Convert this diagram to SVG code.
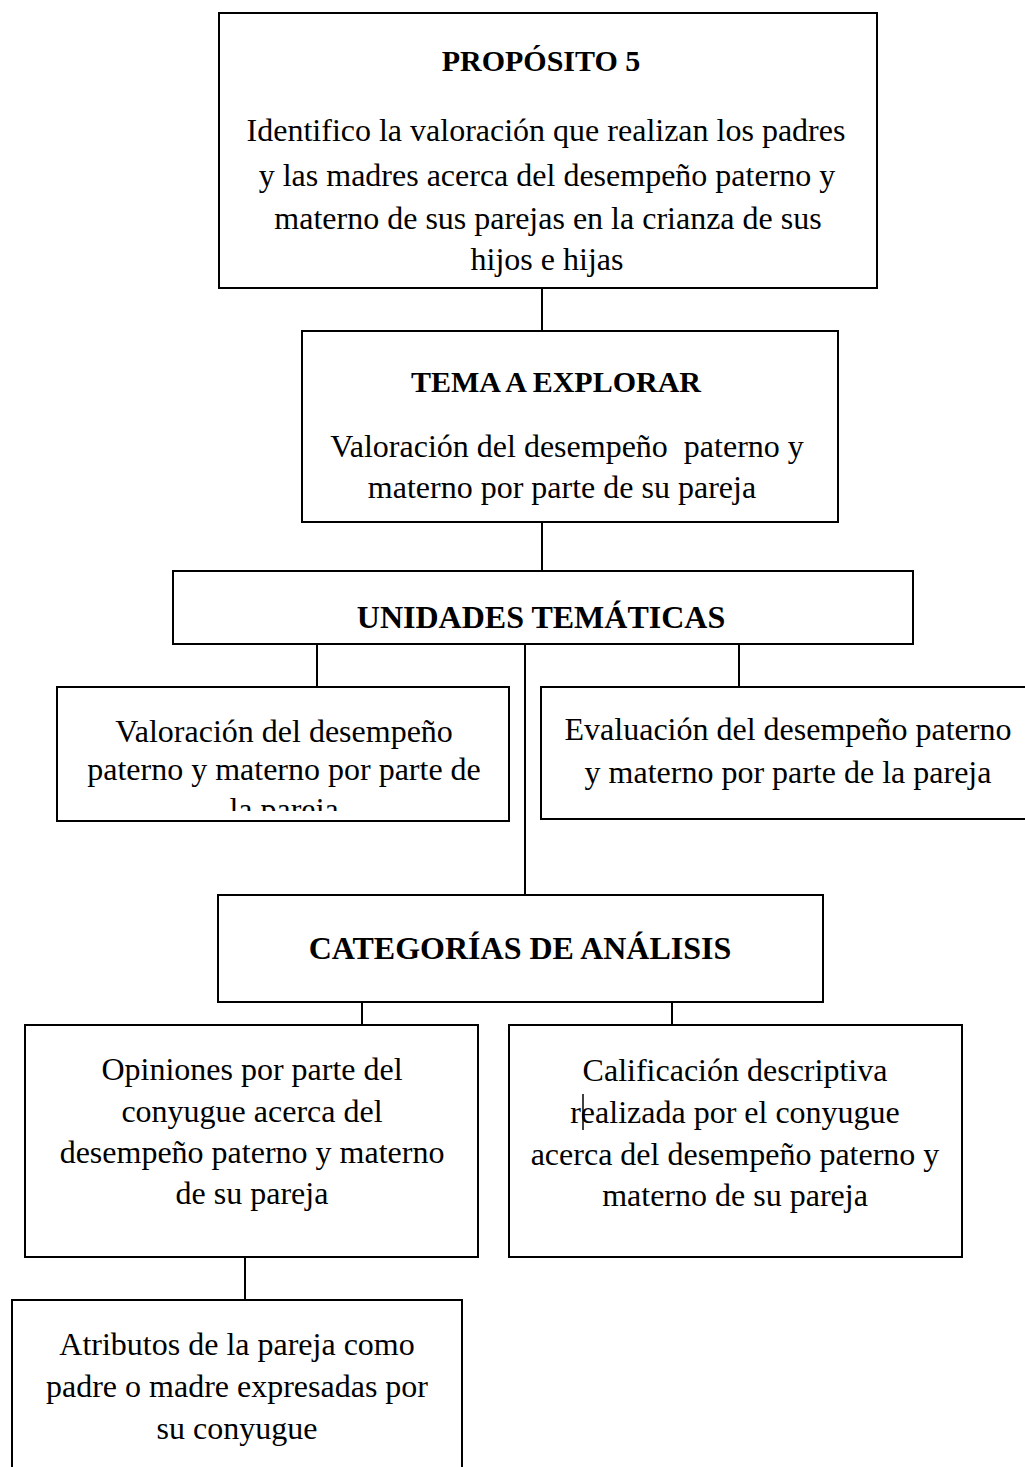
<svg xmlns="http://www.w3.org/2000/svg" width="1025" height="1467" viewBox="0 0 1025 1467">
<style>
.box{fill:#fff;stroke:#000;stroke-width:2}
.c{stroke:#000;stroke-width:2;fill:none}
text{font-family:"Liberation Serif","Times New Roman",serif;font-size:32px;fill:#000;text-anchor:middle}
.b{font-weight:bold}
.s{font-size:30px}
</style>
<defs>
<clipPath id="clipL"><rect x="57" y="688" width="452" height="123"/></clipPath>
</defs>
<rect width="1025" height="1467" fill="#fff"/>
<g id="connectors">
<line class="c" x1="542" y1="288" x2="542" y2="331"/>
<line class="c" x1="542" y1="522" x2="542" y2="571"/>
<line class="c" x1="317" y1="644" x2="317" y2="687"/>
<line class="c" x1="525" y1="644" x2="525" y2="895"/>
<line class="c" x1="739" y1="644" x2="739" y2="687"/>
<line class="c" x1="362" y1="1002" x2="362" y2="1025"/>
<line class="c" x1="672" y1="1002" x2="672" y2="1025"/>
<line class="c" x1="245" y1="1257" x2="245" y2="1300"/>
</g>
<g id="proposito">
<rect class="box" x="219" y="13" width="658" height="275"/>
<text class="b s" x="541" y="71">PROPÓSITO 5</text>
<text x="546" y="141">Identifico la valoración que realizan los padres</text>
<text x="547" y="186">y las madres acerca del desempeño paterno y</text>
<text x="548" y="229">materno de sus parejas en la crianza de sus</text>
<text x="547" y="270">hijos e hijas</text>
</g>
<g id="tema">
<rect class="box" x="302" y="331" width="536" height="191"/>
<text class="b s" x="556" y="392">TEMA A EXPLORAR</text>
<text x="567" y="457" xml:space="preserve">Valoración del desempeño  paterno y</text>
<text x="562" y="498">materno por parte de su pareja</text>
</g>
<g id="unidades">
<rect class="box" x="173" y="571" width="740" height="73"/>
<text class="b" x="541" y="628">UNIDADES TEMÁTICAS</text>
</g>
<g id="ut-valoracion">
<rect class="box" x="57" y="687" width="452" height="134"/>
<text x="284" y="742">Valoración del desempeño</text>
<text x="284" y="780">paterno y materno por parte de</text>
<text x="284" y="820" clip-path="url(#clipL)">la pareja</text>
</g>
<g id="ut-evaluacion">
<rect class="box" x="541" y="687" width="500" height="132"/>
<text x="788" y="740">Evaluación del desempeño paterno</text>
<text x="788" y="783">y materno por parte de la pareja</text>
</g>
<g id="categorias">
<rect class="box" x="218" y="895" width="605" height="107"/>
<text class="b" x="520" y="959">CATEGORÍAS DE ANÁLISIS</text>
</g>
<g id="ca-opiniones">
<rect class="box" x="25" y="1025" width="453" height="232"/>
<text x="252" y="1080">Opiniones por parte del</text>
<text x="252" y="1122">conyugue acerca del</text>
<text x="252" y="1163">desempeño paterno y materno</text>
<text x="252" y="1204">de su pareja</text>
</g>
<g id="ca-calificacion">
<rect class="box" x="509" y="1025" width="453" height="232"/>
<text x="735" y="1081">Calificación descriptiva</text>
<text x="735" y="1123">realizada por el conyugue</text>
<text x="735" y="1165">acerca del desempeño paterno y</text>
<text x="735" y="1206">materno de su pareja</text>
<line x1="583" y1="1094" x2="583" y2="1130" stroke="#000" stroke-width="1.5"/>
</g>
<g id="atributos">
<rect class="box" x="12" y="1300" width="450" height="180"/>
<text x="237" y="1355">Atributos de la pareja como</text>
<text x="237" y="1397">padre o madre expresadas por</text>
<text x="237" y="1439">su conyugue</text>
</g>
</svg>
